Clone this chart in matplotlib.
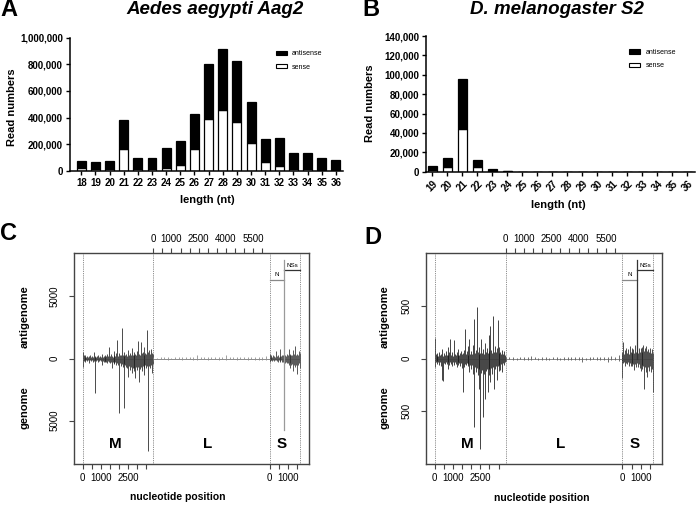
import numpy as np
import matplotlib
matplotlib.use('Agg')
import matplotlib.pyplot as plt
from matplotlib.patches import Patch

plt.rcParams['font.family'] = ['Liberation Sans', 'DejaVu Sans']

# ---- panel A / B: read-length distributions ----
a_len = list(range(18, 37))
a_sense = [23000, 13000, 15000, 162000, 18000, 18000, 22000, 48000, 168000, 393000,
           459000, 364000, 207000, 64000, 37000, 15000, 15000, 2000, 1000]
a_anti = [54000, 51000, 62000, 223000, 76000, 78000, 152000, 173000, 260000, 406000,
          455000, 462000, 309000, 176000, 208000, 121000, 122000, 93000, 81000]

b_len = list(range(19, 37))
b_sense = [1500, 5000, 44000, 4500, 800, 300, 50, 30, 20, 20, 10, 10, 10, 10, 10, 10, 10, 10]
b_anti = [4000, 9000, 51600, 7800, 2400, 900, 100, 60, 40, 30, 30, 20, 20, 20, 20, 20, 20, 20]

# ---- panel C / D: coverage along the M, L, S segments ----
seg_len = [3885, 6404, 1690]          # M, L, S (nt)
m_step, l_step, s_step = 50, 200, 50

c_m_up = [500, 250, 120, 300, 150, 220, 100, 180, 260, 120, 240, 150, 540, 130, 200, 110,
          180, 260, 140, 200, 120, 330, 160, 220, 130, 280, 170, 400, 200, 940, 180, 350,
          220, 160, 600, 250, 180, 420, 1480, 200, 450, 260, 300, 2475, 280, 200, 520, 250,
          330, 220, 670, 300, 450, 250, 860, 320, 280, 520, 350, 260, 600, 1400, 380, 300,
          1290, 420, 550, 320, 940, 480, 360, 2290, 500, 650, 380, 800, 450, 350]
c_m_down = [700, 200, 120, 250, 150, 220, 130, 400, 160, 230, 120, 280, 170, 140, 2800, 200,
            130, 260, 180, 150, 240, 540, 190, 260, 300, 170, 250, 380, 220, 280, 400, 300,
            800, 260, 380, 450, 300, 500, 350, 520, 4360, 400, 600, 450, 650, 480, 3980, 550,
            700, 800, 1480, 600, 900, 700, 1200, 750, 1000, 800, 1600, 700, 950, 700, 1880,
            850, 700, 1000, 600, 1300, 750, 550, 800, 600, 7450, 600, 750, 500, 1200, 450]
c_l_up = [150, 80, 100, 90, 120, 80, 100, 110, 90, 130, 100, 120, 250, 100, 90, 110, 100,
          120, 90, 100, 300, 110, 90, 100, 120, 90, 110, 100, 130, 120, 150, 180, 250]
c_l_down = [100, 60, 80, 70, 90, 60, 80, 70, 90, 80, 70, 90, 100, 80, 70, 90, 80, 70, 90,
            80, 120, 80, 70, 90, 80, 70, 90, 80, 100, 90, 120, 150, 200]
c_s_up = [400, 150, 250, 120, 300, 180, 150, 590, 200, 280, 150, 730, 220, 180, 300, 250,
          1130, 300, 200, 350, 250, 800, 300, 400, 250, 300, 650, 350, 1000, 300, 400, 250,
          600, 450]
c_s_down = [300, 150, 100, 200, 130, 220, 160, 120, 200, 260, 150, 300, 200, 160, 280, 300,
            890, 350, 280, 400, 350, 500, 750, 400, 550, 450, 1020, 500, 650, 550, 1240, 500,
            400, 750]
c_spike_down = 5730   # genome spike at the N/NSs junction

d_m_up = [190, 40, 25, 50, 20, 60, 30, 45, 88, 25, 55, 30, 70, 35, 110, 30, 60, 182, 35, 60,
          25, 176, 45, 30, 60, 35, 90, 30, 55, 70, 40, 50, 80, 277, 45, 70, 35, 120, 182, 40,
          75, 45, 130, 377, 50, 80, 490, 60, 45, 110, 50, 182, 55, 90, 45, 150, 60, 100, 50,
          226, 70, 308, 80, 55, 400, 65, 120, 60, 100, 365, 55, 110, 60, 45, 85, 40, 75, 35]
d_m_down = [80, 30, 25, 55, 30, 60, 35, 70, 200, 214, 40, 50, 30, 55, 100, 35, 60, 30, 55, 70,
            35, 60, 30, 55, 80, 35, 65, 40, 70, 45, 90, 315, 80, 50, 60, 40, 70, 50, 125, 60,
            100, 60, 150, 650, 80, 130, 90, 160, 290, 100, 855, 140, 110, 557, 150, 384, 120,
            100, 320, 100, 160, 226, 90, 150, 80, 290, 100, 70, 200, 70, 120, 60, 110, 50,
            130, 45, 60, 35]
d_l_up = [15, 10, 12, 8, 10, 15, 12, 25, 10, 8, 12, 10, 9, 12, 10, 8, 10, 12, 10, 15, 10, 12,
          8, 10, 12, 10, 15, 12, 10, 20, 15, 30, 40]
d_l_down = [20, 8, 10, 12, 8, 10, 12, 10, 8, 15, 10, 12, 10, 8, 10, 12, 10, 15, 12, 10, 10, 35,
            12, 10, 8, 12, 10, 10, 30, 12, 15, 20, 30]
d_s_up = [60, 157, 40, 80, 100, 50, 90, 45, 116, 60, 95, 50, 90, 55, 126, 60, 100, 55, 95, 60,
          100, 65, 110, 132, 70, 95, 116, 70, 90, 60, 100, 55, 90, 50]
d_s_down = [182, 40, 30, 70, 40, 55, 35, 70, 40, 75, 45, 70, 50, 105, 50, 80, 45, 85, 55, 90,
            120, 65, 100, 70, 292, 80, 130, 180, 80, 120, 70, 130, 100, 320]
d_spike_down = 0

n_end = 820   # N / NSs junction inside S


W, H = 696, 505
fig = plt.figure(figsize=(W / 100, H / 100), dpi=100)


def px_axes(x0, y0, x1, y1):
    return fig.add_axes([x0 / W, 1 - y1 / H, (x1 - x0) / W, (y1 - y0) / H])


def T(x, y, s, **kw):
    kw.setdefault('ha', 'center')
    kw.setdefault('va', 'center')
    fig.text(x / W, 1 - y / H, s, **kw)


def bar_panel(ax, cats, sense, anti, ymax, ystep, xlim, rot):
    x = np.arange(len(cats))
    ax.bar(x, sense, width=0.63, color='white', edgecolor='black', lw=0.9)
    ax.bar(x, anti, bottom=sense, width=0.63, color='black', edgecolor='black', lw=0.9)
    ax.set_xlim(*xlim)
    ax.set_ylim(0, ymax)
    ax.spines['top'].set_visible(False)
    ax.spines['right'].set_visible(False)
    for s in ('left', 'bottom'):
        ax.spines[s].set_linewidth(1.1)
    yt = np.arange(0, ymax + 1, ystep)
    ax.set_yticks(yt)
    ax.set_yticklabels(['{:,}'.format(int(v)) for v in yt], fontsize=7, fontweight='bold')
    ax.set_xticks(x)
    if rot:
        ax.set_xticklabels(cats, fontsize=7, fontweight='bold', rotation=45,
                           ha='right', rotation_mode='anchor')
    else:
        ax.set_xticklabels(cats, fontsize=7, fontweight='bold')
    ax.tick_params(length=3, width=1, pad=2)
    ax.legend(handles=[Patch(facecolor='black', edgecolor='black', lw=0.8, label='antisense'),
                       Patch(facecolor='white', edgecolor='black', lw=0.8, label='sense')],
              loc='upper left', bbox_to_anchor=(0.73, 0.95), frameon=False, fontsize=5,
              handlelength=1.6, handleheight=0.6, labelspacing=0.9, handletextpad=0.8)


axA = px_axes(70, 37.5, 343, 171)
bar_panel(axA, a_len, a_sense, a_anti, 1000000, 200000, (-0.8, 18.5), False)
axB = px_axes(426, 36, 695, 171.7)
bar_panel(axB, b_len, b_sense, b_anti, 140000, 20000, (-0.42, 17.5), True)

T(0, 10, 'A', fontsize=17, fontweight='bold', ha='left')
T(215, 9, 'Aedes aegypti Aag2', fontsize=13.5, fontweight='bold', style='italic')
T(362, 10, 'B', fontsize=17, fontweight='bold', ha='left')
T(557, 9, 'D. melanogaster S2', fontsize=13.5, fontweight='bold', style='italic')
T(12, 107, 'Read numbers', fontsize=8, fontweight='bold', rotation=90)
T(370, 103, 'Read numbers', fontsize=8, fontweight='bold', rotation=90)
T(207, 200, 'length (nt)', fontsize=8, fontweight='bold')
T(558, 205, 'length (nt)', fontsize=8, fontweight='bold')


def cov_panel(ax, m_up, m_down, l_up, l_down, s_up, s_down, spike_down, ymax, ytick, col):
    l0 = seg_len[0]
    s0 = seg_len[0] + seg_len[1]
    total = sum(seg_len)
    ax.hlines(0, 0, total, color='#777777', lw=0.6)
    xm = np.arange(len(m_up)) * m_step
    ax.vlines(xm, 0, m_up, color=col[0], lw=0.55)
    ax.vlines(xm, 0, -np.array(m_down), color=col[0], lw=0.55)
    xl = l0 + np.arange(len(l_up)) * l_step
    ax.vlines(xl, 0, l_up, color=col[1], lw=0.6)
    ax.vlines(xl, 0, -np.array(l_down), color=col[1], lw=0.6)
    xs = s0 + np.arange(len(s_up)) * s_step
    ax.vlines(xs, 0, s_up, color=col[2], lw=0.55)
    ax.vlines(xs, 0, -np.array(s_down), color=col[2], lw=0.55)

    for b in (0, l0, s0, total):
        ax.axvline(b, color='#666666', lw=0.6, ls=(0, (1, 1.2)))

    # N / NSs annotation
    yn, yns, ytop = 0.74 * ymax, 0.835 * ymax, 0.93 * ymax
    ax.plot([s0, s0 + n_end], [yn, yn], color='#888888', lw=0.9)
    ax.plot([s0 + n_end, total], [yns, yns], color='#333333', lw=0.9)
    ax.plot([s0 + n_end, s0 + n_end], [-spike_down, ytop], color=col[3], lw=0.9)
    ax.text(s0 + n_end / 2, yn + 0.03 * ymax, 'N', fontsize=4.5, ha='center', va='bottom')
    ax.text((s0 + n_end + total) / 2, yns + 0.02 * ymax, 'NSs', fontsize=4.5,
            ha='center', va='bottom')

    for name, xc in (('M', 1800), ('L', 6900), ('S', 10950)):
        ax.text(xc, -0.815 * ymax, name, fontsize=11, fontweight='bold',
                ha='center', va='center')

    ax.set_xlim(-0.04 * total, 1.04 * total)
    ax.set_ylim(-ymax, ymax)
    ax.set_yticks([-ytick, 0, ytick])
    ax.set_yticklabels([str(ytick), '0', str(ytick)], rotation=90, va='center', fontsize=7)
    mt = list(np.arange(0, 3501, 500))
    st = list(s0 + np.arange(0, 1501, 500))
    ax.set_xticks(mt + st)
    mlab = ['0', '', '1000', '', '', '2500', '', '']
    slab = ['0', '', '1000', '']
    ax.set_xticklabels(mlab + slab, fontsize=7)
    ax.tick_params(length=3.5, width=0.8, color='#444444', pad=3)
    ax.tick_params(axis='y', pad=7)
    for s in ax.spines.values():
        s.set_linewidth(1.0)
        s.set_color('#444444')

    top = ax.twiny()
    top.set_xlim(ax.get_xlim())
    lt = l0 + np.arange(0, 6001, 500)
    top.set_xticks(lt)
    lab = {0: '0', 1000: '1000', 2500: '2500', 4000: '4000', 5500: '5500'}
    top.set_xticklabels([lab.get(int(v - l0), '') for v in lt], fontsize=7)
    top.tick_params(length=3.5, width=0.8, color='#444444', pad=3)
    for s in top.spines.values():
        s.set_visible(False)


axC = px_axes(74, 253, 309, 464)
cov_panel(axC, c_m_up, c_m_down, c_l_up, c_l_down, c_s_up, c_s_down, c_spike_down,
          8500, 5000, ('#1a1a1a', '#8f8f8f', '#2a2a2a', '#9a9a9a'))
axD = px_axes(426, 253, 662, 464)
cov_panel(axD, d_m_up, d_m_down, d_l_up, d_l_down, d_s_up, d_s_down, d_spike_down,
          1000, 500, ('#111111', '#555555', '#1a1a1a', '#333333'))

T(0, 234, 'C', fontsize=17, fontweight='bold', ha='left')
T(364, 237, 'D', fontsize=17, fontweight='bold', ha='left')
for xc in (25, 385):
    T(xc, 317, 'antigenome', fontsize=8, fontweight='bold', rotation=90)
    T(xc, 408, 'genome', fontsize=8, fontweight='bold', rotation=90)
T(178, 497, 'nucleotide position', fontsize=7.5, fontweight='bold')
T(542, 498, 'nucleotide position', fontsize=7.5, fontweight='bold')

fig.savefig('out.png', dpi=100)
